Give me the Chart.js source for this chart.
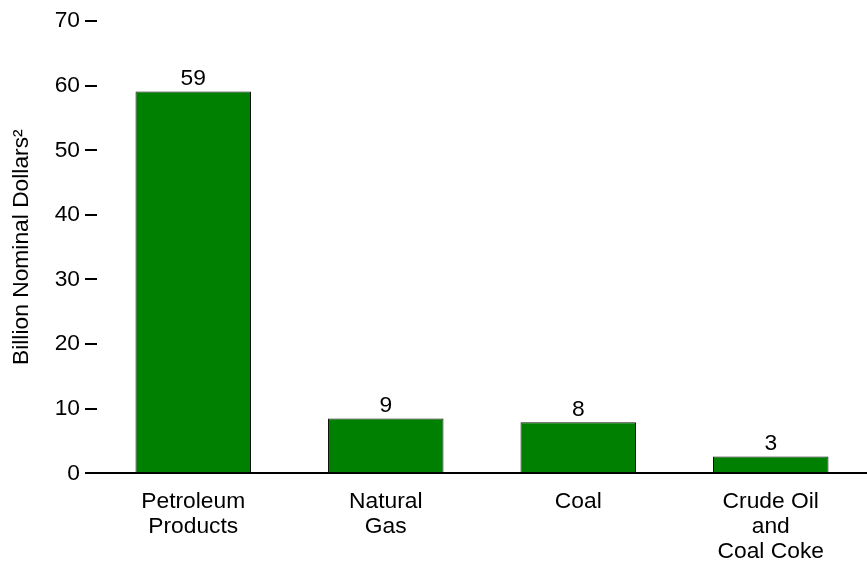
<!DOCTYPE html>
<html>
<head>
<meta charset="utf-8">
<script src="https://cdn.jsdelivr.net/npm/chart.js@4/dist/chart.umd.min.js"></script>
<style>
html,body{margin:0;padding:0;background:#fff;}
#wrap{width:867px;height:563px;}
</style>
</head>
<body>
<div id="wrap"><canvas id="c" width="867" height="563"></canvas></div>
<script>
const categories = [["Petroleum","Products"],["Natural","Gas"],["Coal"],["Crude Oil","and","Coal Coke"]];
const values = [59.1, 8.5, 7.9, 2.6];
const valueLabels = ["59","9","8","3"];
const yTitle = "Billion Nominal Dollars\u00B2";
const yMin = 0, yMax = 70, yStep = 10;

const FONT = "'Liberation Sans', Arial, sans-serif";
const FS = 22.8;

const barLabels = {
  id: 'barLabels',
  afterDatasetsDraw(chart) {
    const ctx = chart.ctx;
    const meta = chart.getDatasetMeta(0);
    ctx.save();
    ctx.font = FS + "px " + FONT;
    ctx.fillStyle = "#000";
    ctx.textAlign = "center";
    ctx.textBaseline = "bottom";
    meta.data.forEach((bar, i) => {
      ctx.fillText(valueLabels[i], bar.x, bar.y - 1);
    });
    ctx.restore();
  }
};

new Chart(document.getElementById('c'), {
  type: 'bar',
  data: {
    labels: categories,
    datasets: [{
      data: values,
      backgroundColor: '#008000',
      borderColor: '#111',
      borderWidth: 1,
      borderSkipped: 'bottom',
      categoryPercentage: 1.0,
      barPercentage: 0.6
    }]
  },
  options: {
    responsive: false,
    animation: false,
    devicePixelRatio: 1,
    layout: { padding: { top: 21, right: 0, bottom: 0, left: 0 } },
    plugins: { legend: { display: false }, tooltip: { enabled: false } },
    scales: {
      x: {
        grid: { display: false, drawTicks: false, tickLength: 0 },
        border: { display: true, color: '#000', width: 2 },
        ticks: { color: '#000', padding: 16, font: { family: FONT, size: FS, lineHeight: 1.1 }, maxRotation: 0, autoSkip: false },
        afterFit(scale) { scale.height = 89.7; }
      },
      y: {
        min: yMin, max: yMax,
        grid: { drawOnChartArea: false, drawTicks: true, tickLength: 12, color: '#000', lineWidth: 2 },
        border: { display: false },
        ticks: { stepSize: yStep, color: '#000', padding: 5, font: { family: FONT, size: FS } },
        title: { display: true, text: yTitle, color: '#000', font: { family: FONT, size: FS }, padding: { top: 8, bottom: 0 } },
        afterFit(scale) { scale.width = 97; }
      }
    }
  },
  plugins: [barLabels]
});
</script>
</body>
</html>
